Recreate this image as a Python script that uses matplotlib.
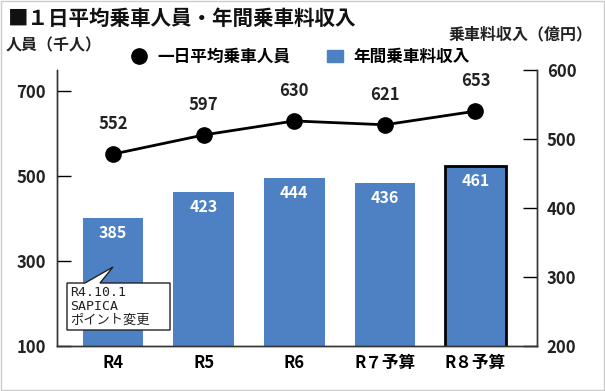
import matplotlib
matplotlib.use("Agg")
import matplotlib.pyplot as plt
from matplotlib.patches import Rectangle, Polygon
from matplotlib.lines import Line2D

plt.rcParams['font.family'] = ['Noto Sans CJK JP', 'DejaVu Sans']

categories = ["R4", "R5", "R6", "R７予算", "R８予算"]
riders = [552, 597, 630, 621, 653]        # 千人 (left axis)
revenue = [385, 423, 444, 436, 461]       # 億円 (right axis)
left_ticks = [100, 300, 500, 700]
right_ticks = [200, 300, 400, 500, 600]

W, H = 605, 391
fig = plt.figure(figsize=(W / 100, H / 100), dpi=100)
fig.patch.set_facecolor("white")

def fx(px):
    return px / W

def fy(py):
    return 1 - py / H

ax = fig.add_axes([fx(57), fy(346), fx(537) - fx(57), fy(70) - fy(346)])
ax2 = ax.twinx()
ax.set_zorder(ax2.get_zorder() + 1)
ax.patch.set_visible(False)

bar_color = "#4D81C3"
x = list(range(len(categories)))
edges = ["none"] * (len(categories) - 1) + ["black"]
lws = [0] * (len(categories) - 1) + [2]
bars = ax2.bar(x, revenue, width=0.67, color=bar_color, edgecolor=edges, linewidth=lws, zorder=2)
ax2.set_ylim(200, 600)
ax2.set_yticks(right_ticks)
for xi, v in zip(x, revenue):
    ax2.annotate(f"{v}", (xi, v), xytext=(0, -15), textcoords="offset pixels",
                 ha="center", va="center", color="white", fontsize=11.5, fontweight="bold")

ax.plot(x, riders, color="black", lw=2, marker="o", markersize=11, zorder=5)
ax.set_ylim(100, 750)
ax.set_yticks(left_ticks)
ax.set_xlim(-0.62, 4.68)
for xi, v in zip(x, riders):
    ax.annotate(f"{v}", (xi, v), xytext=(0, 30), textcoords="offset pixels",
                ha="center", va="center", color="#222222", fontsize=12, fontweight="bold")

ax.set_xticks(x)
ax.set_xticklabels(categories, fontsize=12, fontweight="bold")
ax.tick_params(axis="x", length=0, pad=6)
ax.tick_params(axis="y", direction="in", length=10, width=1, pad=8, labelsize=12)
ax2.tick_params(axis="y", direction="in", length=10, width=1, pad=7, labelsize=12)
for a in (ax, ax2):
    for lab in a.get_yticklabels():
        lab.set_fontweight("bold")
        lab.set_color("#222222")
    a.spines["top"].set_visible(False)
    for s in ("left", "right", "bottom"):
        a.spines[s].set_color("#333333")
        a.spines[s].set_linewidth(1)

# Title and axis titles
fig.text(fx(8), fy(18), "■１日平均乗車人員・年間乗車料収入", fontsize=14.8, fontweight="bold",
         ha="left", va="center", color="#111111")
fig.text(fx(6), fy(45), "人員（千人）", fontsize=11.5, fontweight="bold", ha="left", va="center",
         color="#222222")
fig.text(fx(592), fy(34), "乗車料収入（億円）", fontsize=11.5, fontweight="bold", ha="right",
         va="center", color="#222222")

# Legend
handles = [
    Line2D([], [], color="black", marker="o", linestyle="none", markersize=11),
    Rectangle((0, 0), 1, 1, color=bar_color),
]
fig.legend(handles, ["一日平均乗車人員", "年間乗車料収入"], loc="center",
           bbox_to_anchor=(fx(300), fy(57)), ncol=2, frameon=False,
           prop={"family": ["Noto Sans CJK JP", "DejaVu Sans"], "weight": "bold", "size": 12},
           handlelength=1.0, handletextpad=0.6, columnspacing=2.2)

# Callout annotation
pts = [(67, 283), (85, 283), (113, 267), (100, 283), (170, 283), (170, 330), (67, 330)]
poly = Polygon([(fx(px), fy(py)) for px, py in pts], closed=True, transform=fig.transFigure,
               facecolor="white", edgecolor="#222222", linewidth=1, zorder=10)
fig.add_artist(poly)
fig.text(fx(70), fy(306), "R4.10.1\nSAPICA\nポイント変更", fontsize=9.5, ha="left", va="center",
         color="#222222", linespacing=1.1, zorder=11,
         family=["DejaVu Sans Mono", "Noto Sans CJK JP"])

# Figure border
fig.add_artist(Rectangle((0.002, 0.003), 0.996, 0.994, transform=fig.transFigure, fill=False,
                         edgecolor="#cccccc", linewidth=1))

fig.savefig("out.png", dpi=100)
